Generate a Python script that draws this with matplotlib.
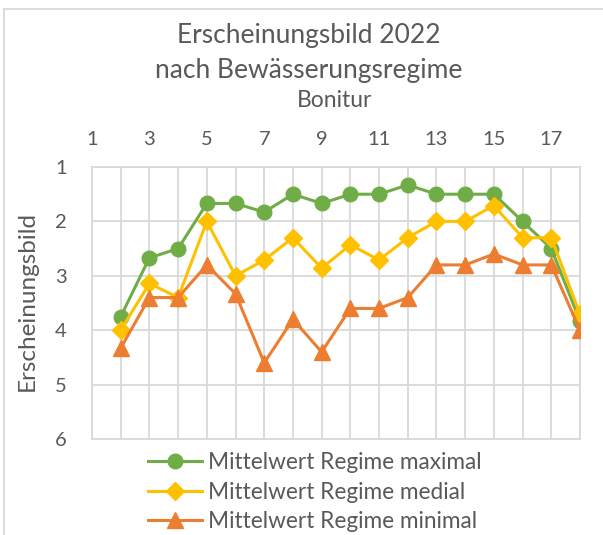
import matplotlib
matplotlib.use("Agg")
import matplotlib.pyplot as plt
from matplotlib.lines import Line2D

plt.rcParams['font.family'] = ['Lato', 'DejaVu Sans']

bonitur = list(range(2, 19))
maximal = [3.75, 2.67, 2.5, 1.67, 1.67, 1.83, 1.5, 1.67, 1.5, 1.5, 1.33, 1.5, 1.5, 1.5, 2.0, 2.5, 3.83]
medial = [4.0, 3.14, 3.4, 2.0, 3.0, 2.71, 2.3, 2.86, 2.43, 2.71, 2.3, 2.0, 2.0, 1.71, 2.3, 2.3, 3.71]
minimal = [4.33, 3.4, 3.4, 2.8, 3.33, 4.6, 3.8, 4.4, 3.6, 3.6, 3.4, 2.8, 2.8, 2.6, 2.8, 2.8, 4.0]
labels = ["Mittelwert Regime maximal", "Mittelwert Regime medial", "Mittelwert Regime minimal"]
xticks = list(range(1, 19))
xticklabels = [str(v) if v % 2 == 1 else "" for v in xticks]
yticks = [1, 2, 3, 4, 5, 6]

W, H = 603, 535
fig = plt.figure(figsize=(W / 100, H / 100), dpi=100)
txt = '#595959'
grid = '#D9D9D9'

ax = fig.add_axes([92 / W, 1 - 439 / H, (580 - 92) / W, (439 - 167) / H])
ax.plot(bonitur, maximal, color='#70AD47', lw=2.2, marker='o', ms=10.5, label=labels[0], zorder=3)
ax.plot(bonitur, medial, color='#FFC000', lw=2.2, marker='D', ms=9.5, label=labels[1], zorder=3)
ax.plot(bonitur, minimal, color='#ED7D31', lw=2.2, marker='^', ms=12, label=labels[2], zorder=3)

ax.set_xlim(1, 18)
ax.set_ylim(6, 1)
ax.xaxis.tick_top()
ax.set_xticks(xticks)
ax.set_xticklabels(xticklabels)
ax.set_yticks(yticks)
ax.tick_params(axis='x', length=0, pad=14, labelsize=14.5, colors=txt)
ax.tick_params(axis='y', length=0, pad=18, labelsize=14.5, colors=txt)
ax.grid(True, color=grid, lw=1.3)
ax.set_axisbelow(True)
for s in ax.spines.values():
    s.set_color(grid)
    s.set_linewidth(1.3)

fig.text(309 / W, 1 - 43 / H, "Erscheinungsbild 2022", ha='center', va='baseline', fontsize=19, color=txt)
fig.text(309 / W, 1 - 78 / H, "nach Bewässerungsregime", ha='center', va='baseline', fontsize=19, color=txt)
fig.text(335 / W, 1 - 107 / H, "Bonitur", ha='center', va='baseline', fontsize=16.5, color=txt)
fig.text(27 / W, 1 - 301 / H, "Erscheinungsbild", ha='center', va='center', rotation=90, fontsize=17.5, color=txt)

leg = fig.legend(loc='upper left', bbox_to_anchor=(148 / W, 1 - 452 / H), frameon=False,
                 fontsize=16.3, labelcolor=txt, handlelength=2.4, handletextpad=0.25,
                 labelspacing=0.38, borderpad=0, borderaxespad=0)

fig.add_artist(Line2D([4 / W, 1], [1 - 9 / H, 1 - 9 / H], color=grid, lw=1.3, transform=fig.transFigure))
fig.add_artist(Line2D([4 / W, 4 / W], [0, 1 - 9 / H], color=grid, lw=1.3, transform=fig.transFigure))

fig.savefig("out.png", dpi=100)
